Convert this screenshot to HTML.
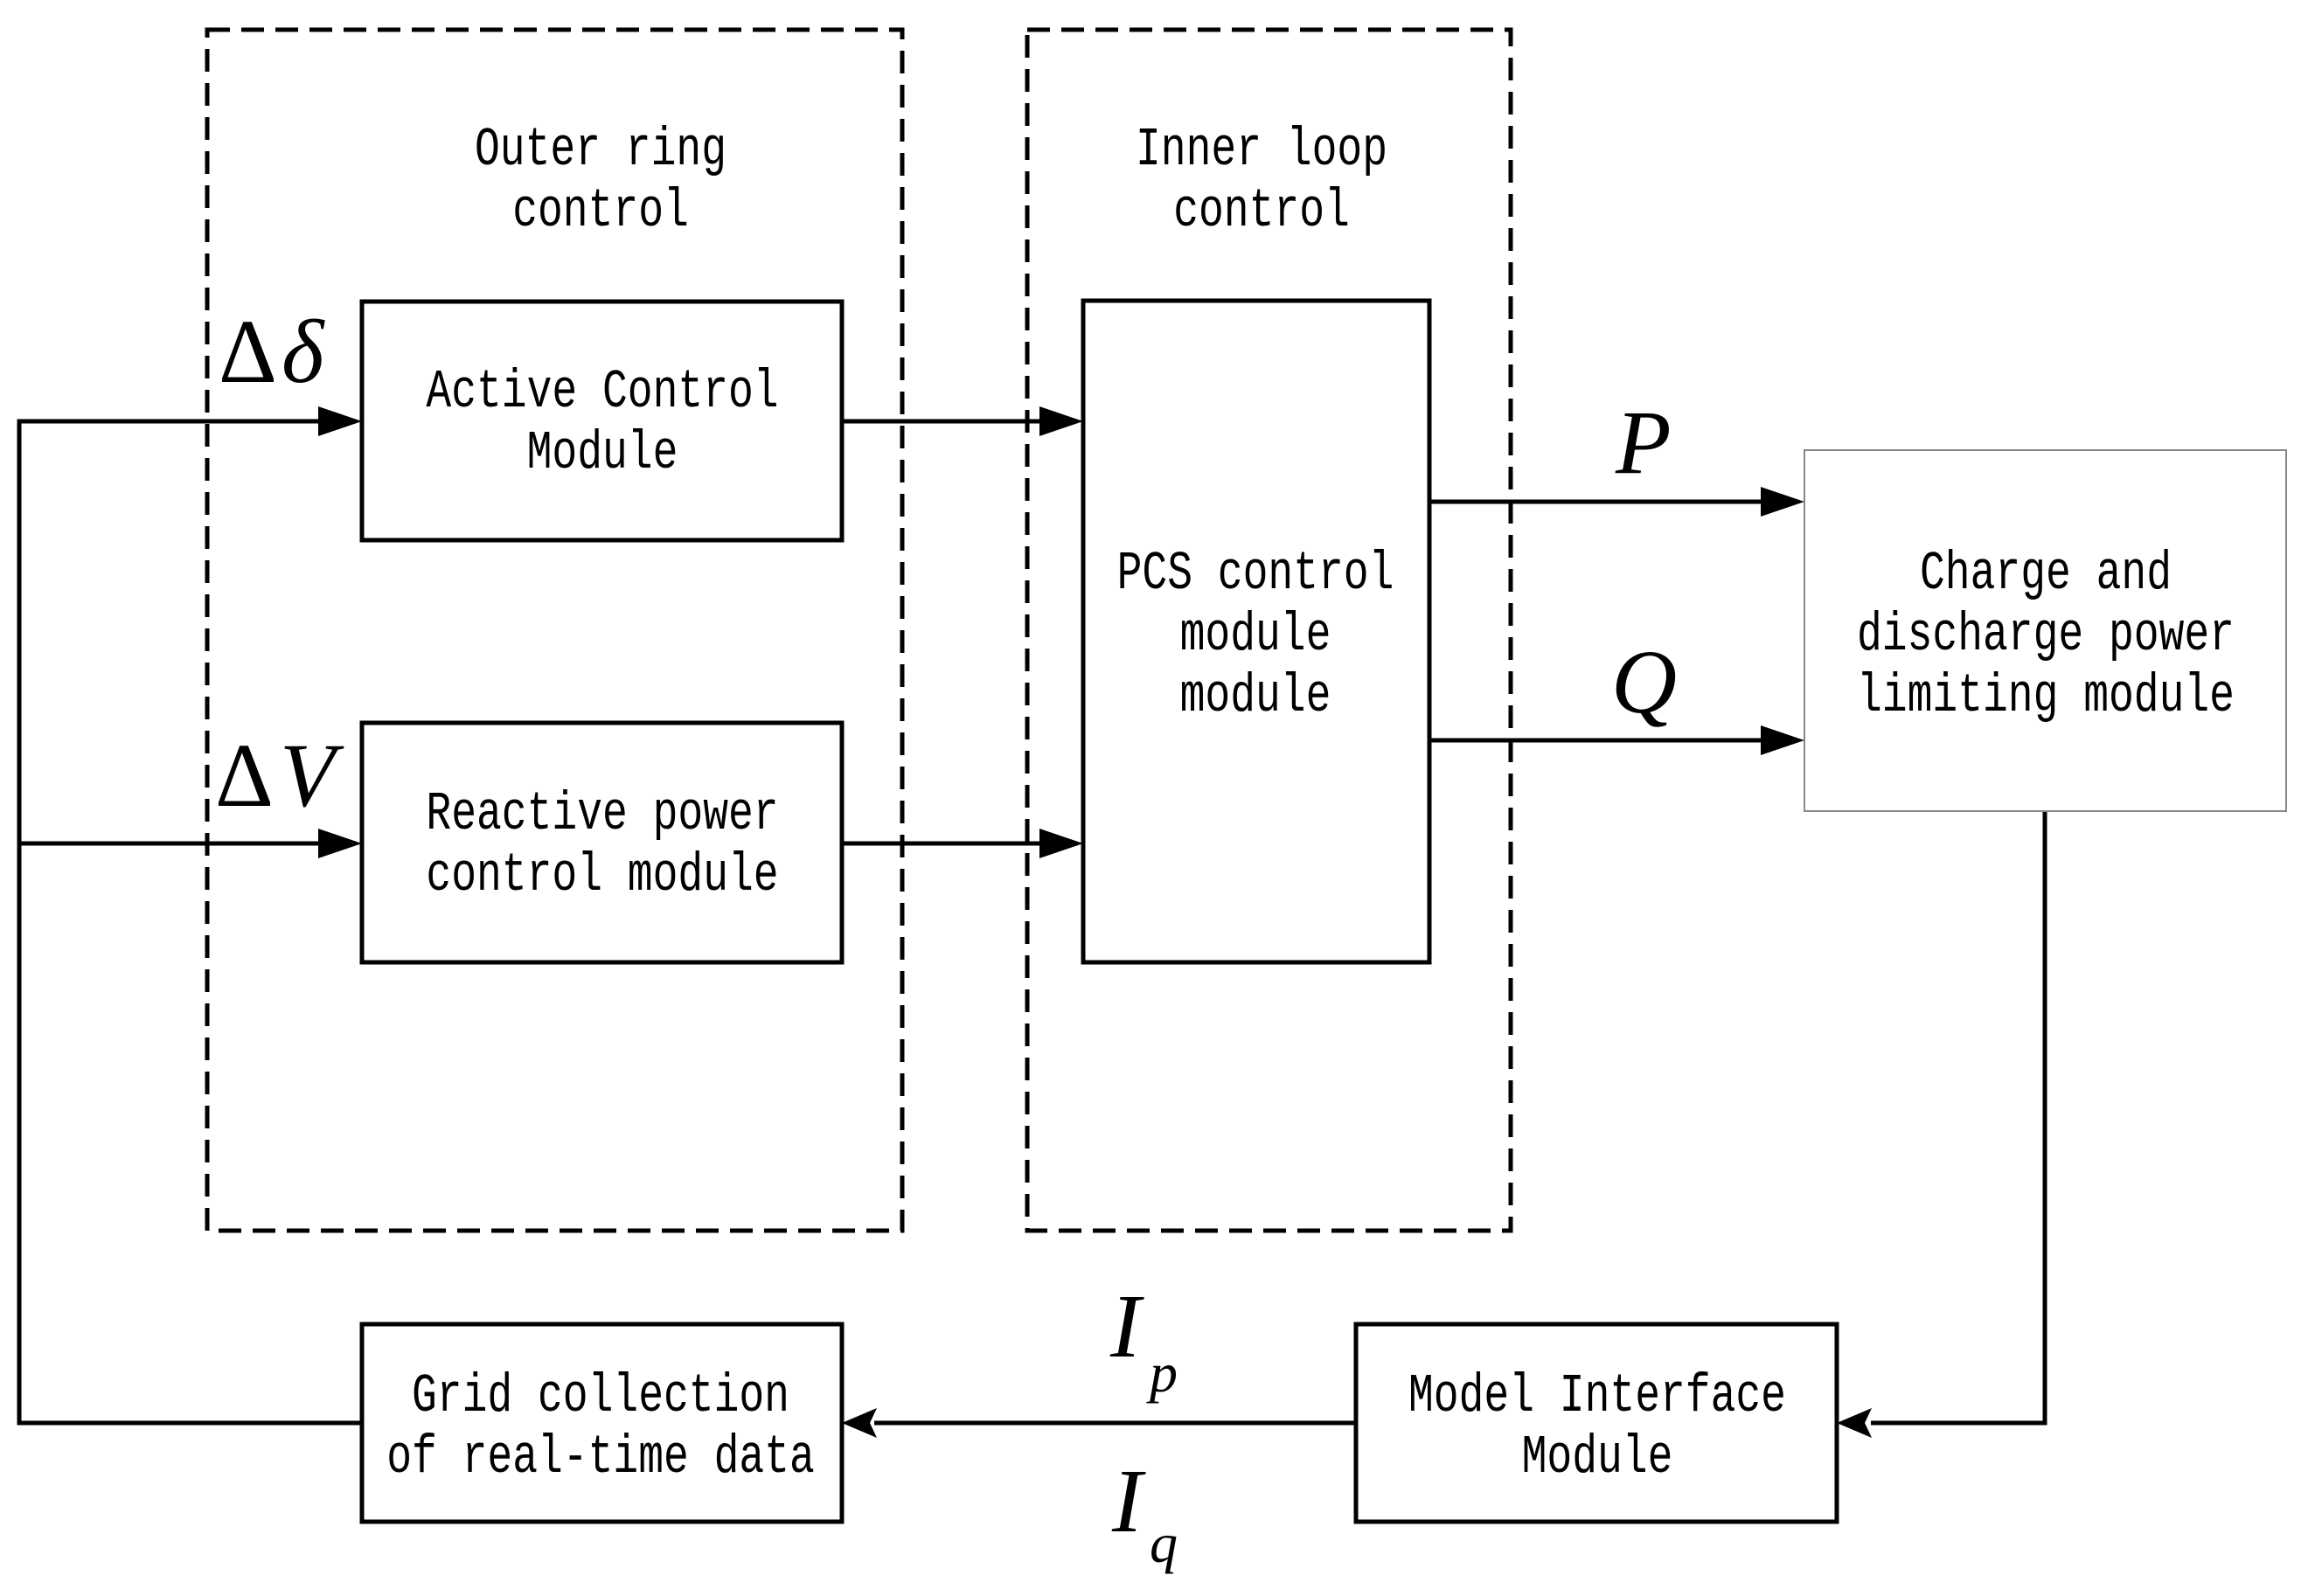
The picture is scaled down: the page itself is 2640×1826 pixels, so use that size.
<!DOCTYPE html>
<html><head><meta charset="utf-8"><style>
html,body{margin:0;padding:0;background:#fff}
svg{display:block}
.t{font-family:"Liberation Mono",monospace;font-size:48px;fill:#000;text-anchor:middle}
.m{font-family:"Liberation Serif",serif;font-style:italic;fill:#000}
</style></head><body>
<svg width="2640" height="1826" viewBox="0 0 2640 1826" xmlns="http://www.w3.org/2000/svg">
<g fill="none" stroke="#000" stroke-width="5">
<rect x="237" y="34" width="795" height="1374" stroke-dasharray="26 13"/>
<rect x="1175" y="34" width="553" height="1374" stroke-dasharray="26 13"/>
<rect x="414" y="345" width="549" height="273"/>
<rect x="414" y="827" width="549" height="274"/>
<rect x="1239" y="344" width="396" height="757"/>
<rect x="414" y="1515" width="549" height="226"/>
<rect x="1551" y="1515" width="550" height="226"/>
<polyline points="400,482 22,482 22,1628 414,1628"/>
<line x1="22" y1="965" x2="380" y2="965"/>
<line x1="963" y1="482" x2="1195" y2="482"/>
<line x1="963" y1="965" x2="1195" y2="965"/>
<line x1="1635" y1="574" x2="2020" y2="574"/>
<line x1="1635" y1="847" x2="2020" y2="847"/>
<polyline points="2339,928 2339,1628 2140,1628"/>
<line x1="1551" y1="1628" x2="1000" y2="1628"/>
</g>
<rect x="2064" y="515" width="551" height="413" fill="#fff" stroke="#888" stroke-width="2"/>
<g fill="#000">
<polygon points="414,482 364,465 364,499"/>
<polygon points="414,965 364,948 364,982"/>
<polygon points="1239,482 1189,465 1189,499"/>
<polygon points="1239,965 1189,948 1189,982"/>
<polygon points="2064,574 2014,557 2014,591"/>
<polygon points="2064,847 2014,830 2014,864"/>
<polygon points="2101,1628 2141,1611 2133,1628 2141,1645"/>
<polygon points="963,1628 1003,1611 995,1628 1003,1645"/>
</g>
<g class="t">
<text transform="translate(687,188) scale(1,1.3)">Outer ring</text>
<text transform="translate(687,258) scale(1,1.3)">control</text>
<text transform="translate(1443,188) scale(1,1.3)">Inner loop</text>
<text transform="translate(1443,258) scale(1,1.3)">control</text>
<text transform="translate(689,465) scale(1,1.3)">Active Control</text>
<text transform="translate(689,535) scale(1,1.3)">Module</text>
<text transform="translate(689,948) scale(1,1.3)">Reactive power</text>
<text transform="translate(689,1018) scale(1,1.3)">control module</text>
<text transform="translate(1436,673) scale(1,1.3)">PCS control</text>
<text transform="translate(1436,743) scale(1,1.3)">module</text>
<text transform="translate(1436,813) scale(1,1.3)">module</text>
<text transform="translate(2340,673) scale(1,1.3)">Charge and</text>
<text transform="translate(2340,743) scale(1,1.3)">discharge power</text>
<text transform="translate(2340,813) scale(1,1.3)">limiting module</text>
<text transform="translate(687,1614) scale(1,1.3)">Grid collection</text>
<text transform="translate(687,1684) scale(1,1.3)">of real-time data</text>
<text transform="translate(1827,1614) scale(1,1.3)">Model Interface</text>
<text transform="translate(1827,1684) scale(1,1.3)">Module</text>
</g>
<text x="250" y="437" font-family="Liberation Serif,serif" font-size="104">Δ</text>
<text x="322" y="437" class="m" font-size="104">δ</text>
<text x="246" y="922" font-family="Liberation Serif,serif" font-size="104">Δ</text>
<text x="320" y="922" class="m" font-size="104">V</text>
<text x="1848" y="541" class="m" font-size="104">P</text>
<text x="1843" y="815" class="m" font-size="104">Q</text>
<text x="1270" y="1552" class="m" font-size="104">I</text>
<text x="1315" y="1592" class="m" font-size="64">p</text>
<text x="1272" y="1752" class="m" font-size="104">I</text>
<text x="1315" y="1787" class="m" font-size="64">q</text>
</svg>
</body></html>
